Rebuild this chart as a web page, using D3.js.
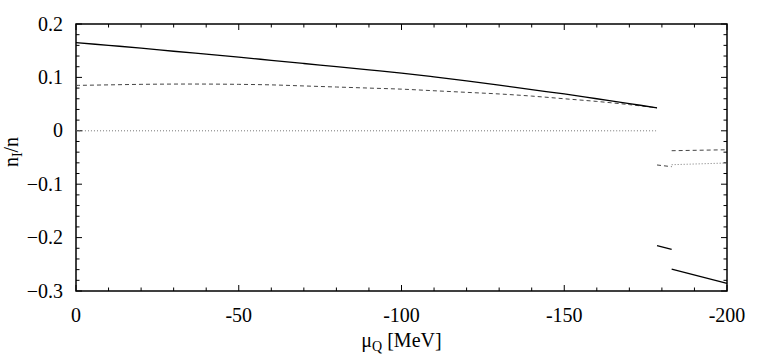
<!DOCTYPE html>
<html>
<head>
<meta charset="utf-8">
<title>nI/n vs muQ</title>
<style>
    body { margin: 0; background: #fff; }
    svg text { font-family: "Liberation Serif", "Times New Roman", Times, "DejaVu Serif", serif; fill: #000; }
    .tick-label { font-size: 20px; }
    .frame { fill: none; stroke: #000; stroke-width: 1.5px; }
    .tick { stroke: #000; stroke-width: 1px; }
    .line { fill: none; }
    .solid { stroke: #000; stroke-width: 1.3px; }
    .dashed { stroke: #444; stroke-width: 1px; stroke-dasharray: 4,3; }
    .dotted { stroke: #777; stroke-width: 1px; stroke-dasharray: 1,2; }
</style>
</head>
<body>
<script src="https://cdn.jsdelivr.net/npm/d3@7"></script>
<script>
// data
var muQ = [0, -10, -20, -30, -40, -50, -60, -70, -80, -90, -100, -110, -120, -130, -140, -150, -160, -170, -178.5];
var solidVals  = [0.165, 0.160, 0.155, 0.149, 0.1435, 0.138, 0.132, 0.126, 0.120, 0.114, 0.108, 0.101, 0.0935, 0.0855, 0.077, 0.069, 0.060, 0.051, 0.043];
var dashedVals = [0.085, 0.086, 0.087, 0.0875, 0.0875, 0.087, 0.086, 0.084, 0.082, 0.080, 0.078, 0.075, 0.072, 0.069, 0.065, 0.060, 0.055, 0.049, 0.043];
var dottedVals = [0, 0, 0, 0, 0, 0, 0, 0, 0, 0, 0, 0, 0, 0, 0, 0, 0, 0, 0];

// pieces past the transition
var solidMixed  = [[-178.5, -0.215], [-183, -0.222]];
var solidAfter  = [[-183, -0.259], [-200, -0.2856]];
var dashedMixed = [[-178.5, -0.064], [-183, -0.0672]];
var dashedAfter = [[-183, -0.0373], [-200, -0.0355]];
var dottedAfter = [[-183, -0.0635], [-200, -0.0603]];

var xTicks = [0, -50, -100, -150, -200];
var yTicks = [0.2, 0.1, 0, -0.1, -0.2, -0.3];

var W = 763, H = 355;
var margin = {top: 24, right: 36, bottom: 64, left: 76};
var width = W - margin.left - margin.right,
    height = H - margin.top - margin.bottom;

var x = d3.scaleLinear().domain([0, -200]).range([0, width]);
var y = d3.scaleLinear().domain([-0.3, 0.2]).range([height, 0]);

var svg = d3.select("body").append("svg")
    .attr("width", W)
    .attr("height", H);

var g = svg.append("g")
    .attr("transform", "translate(" + margin.left + "," + margin.top + ")");

// ticks, all inward and mirrored on the far sides
var xMinor = d3.range(0, -201, -10);
var yMinor = d3.range(-0.3, 0.2001, 0.02);

function isMajorX(v) { return Math.abs(v % 50) < 1e-6; }
function isMajorY(v) { return Math.abs(Math.round(v * 10) - v * 10) < 1e-6; }

xMinor.forEach(function (v) {
    var len = isMajorX(v) ? 6 : 3.5;
    g.append("line").attr("class", "tick")
        .attr("x1", x(v)).attr("x2", x(v))
        .attr("y1", height).attr("y2", height - len);
    g.append("line").attr("class", "tick")
        .attr("x1", x(v)).attr("x2", x(v))
        .attr("y1", 0).attr("y2", len);
});
yMinor.forEach(function (v) {
    var len = isMajorY(v) ? 6 : 3.5;
    g.append("line").attr("class", "tick")
        .attr("x1", 0).attr("x2", len)
        .attr("y1", y(v)).attr("y2", y(v));
    g.append("line").attr("class", "tick")
        .attr("x1", width).attr("x2", width - len)
        .attr("y1", y(v)).attr("y2", y(v));
});

g.append("rect").attr("class", "frame")
    .attr("x", 0).attr("y", 0)
    .attr("width", width).attr("height", height);

// tick labels
g.selectAll(".xlab").data(xTicks).enter().append("text")
    .attr("class", "tick-label")
    .attr("x", function (d) { return x(d); })
    .attr("y", height + 31)
    .attr("text-anchor", "middle")
    .text(function (d) { return d; });

g.selectAll(".ylab").data(yTicks).enter().append("text")
    .attr("class", "tick-label")
    .attr("x", -13)
    .attr("y", function (d) { return y(d); })
    .attr("dy", "0.33em")
    .attr("text-anchor", "end")
    .text(function (d) { return d === 0 ? "0" : d3.format(".1f")(d); });

// axis titles
var xt = svg.append("text")
    .attr("class", "tick-label")
    .attr("x", margin.left + width / 2)
    .attr("y", 347)
    .attr("text-anchor", "middle");
xt.append("tspan").text("\u03bc");
xt.append("tspan").attr("font-size", "14px").attr("dy", 4).text("Q");
xt.append("tspan").attr("dy", -4).text(" [MeV]");

var yt = svg.append("text")
    .attr("class", "tick-label")
    .attr("transform", "translate(18,152) rotate(-90)")
    .attr("text-anchor", "middle");
yt.append("tspan").text("n");
yt.append("tspan").attr("font-size", "14px").attr("dy", 4).text("I");
yt.append("tspan").attr("dy", -4).text("/n");

// curves
var line = d3.line()
    .curve(d3.curveCatmullRom)
    .x(function (d) { return x(d[0]); })
    .y(function (d) { return y(d[1]); });

function zipVals(vals) { return muQ.map(function (m, i) { return [m, vals[i]]; }); }

var curves = [
    {cls: "dotted", pts: zipVals(dottedVals)},
    {cls: "dotted", pts: dottedAfter},
    {cls: "dashed", pts: zipVals(dashedVals)},
    {cls: "dashed", pts: dashedMixed},
    {cls: "dashed", pts: dashedAfter},
    {cls: "solid", pts: zipVals(solidVals)},
    {cls: "solid", pts: solidMixed},
    {cls: "solid", pts: solidAfter}
];

g.selectAll("path.line").data(curves).enter().append("path")
    .attr("class", function (d) { return "line " + d.cls; })
    .attr("d", function (d) { return line(d.pts); });
</script>
</body>
</html>
